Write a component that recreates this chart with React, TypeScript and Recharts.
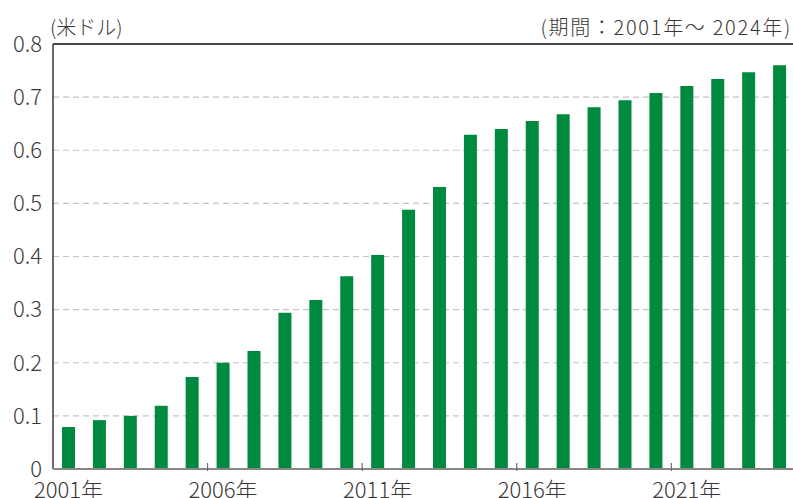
import { BarChart, Bar, XAxis, YAxis, CartesianGrid, ReferenceLine } from 'recharts';

const YEARS = ['2001', '2002', '2003', '2004', '2005', '2006', '2007', '2008', '2009', '2010', '2011', '2012',
  '2013', '2014', '2015', '2016', '2017', '2018', '2019', '2020', '2021', '2022', '2023', '2024'];
const VALUES = [0.079, 0.092, 0.1, 0.119, 0.173, 0.2, 0.222, 0.294, 0.318, 0.363, 0.403, 0.488,
  0.531, 0.629, 0.64, 0.655, 0.668, 0.681, 0.694, 0.708, 0.721, 0.734, 0.747, 0.76];
const LABELED_YEARS = ['2001', '2006', '2011', '2016', '2021'];
const Y_TICKS = [0, 0.1, 0.2, 0.3, 0.4, 0.5, 0.6, 0.7, 0.8];

const data = YEARS.map((year, i) => ({ year, value: VALUES[i] }));

const FONT = '"Noto Sans CJK JP", "Noto Sans", sans-serif';
const TEXT = '#3b3738';

function YearTick(props: any) {
  const { x, y, payload } = props;
  if (!LABELED_YEARS.includes(payload.value)) return null;
  const half = payload.offset || 15.45;
  return (
    <g>
      {payload.value !== '2001' && (
        <line x1={x - half} x2={x - half} y1={y - 8} y2={y} stroke="#6f6b6c" strokeWidth={1.2} />
      )}
      <text x={x} y={y + 27} textAnchor="middle" fill={TEXT} fontSize={22} fontWeight={300} fontFamily={FONT}>
        {payload.value + '年'}
      </text>
    </g>
  );
}

export default function App() {
  return (
    <div style={{ position: 'absolute', left: 0, top: 0, width: 793, height: 498, overflow: 'hidden', background: '#fff', fontFamily: FONT, fontWeight: 300 }}>
      <div style={{ position: 'absolute', left: 50, top: 15, fontSize: 20, lineHeight: '24px', color: TEXT }}>(米ドル)</div>
      <div style={{ position: 'absolute', right: 1, top: 15, fontSize: 20, lineHeight: '24px', color: TEXT, letterSpacing: '1.7px' }}>(期間：2001年～ 2024年)</div>
      <BarChart width={800} height={498} data={data} margin={{ top: 44, right: 5, bottom: 0, left: 0 }}>
        <CartesianGrid vertical={false} stroke="#c4c4c4" strokeDasharray="6 4" strokeWidth={1.2} />
        <YAxis
          domain={[0, 0.8]}
          ticks={Y_TICKS}
          width={53}
          tickLine={false}
          tickSize={0}
          tickMargin={11}
          axisLine={{ stroke: '#3b3738', strokeWidth: 1.5 }}
          tickFormatter={(v: number) => (v === 0 ? '0' : v.toFixed(1))}
          tick={{ fill: TEXT, fontSize: 22, fontWeight: 300, fontFamily: FONT }}
        />
        <XAxis
          dataKey="year"
          height={29}
          interval={0}
          tickLine={false}
          tickSize={0}
          axisLine={{ stroke: '#8a8687', strokeWidth: 2 }}
          tick={<YearTick />}
        />
        <ReferenceLine y={0.8} stroke="#4a4647" strokeWidth={2} />
        <Bar dataKey="value" fill="#008a3f" barSize={13} isAnimationActive={false} />
      </BarChart>
    </div>
  );
}
